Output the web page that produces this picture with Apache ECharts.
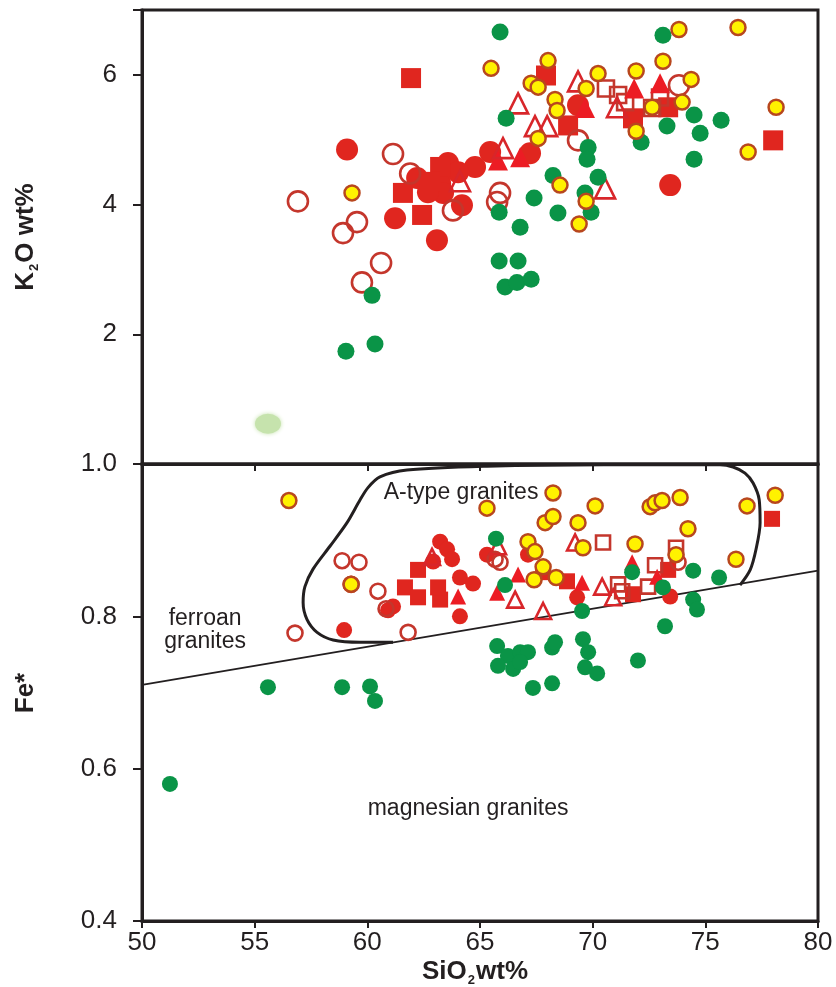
<!DOCTYPE html>
<html>
<head>
<meta charset="utf-8">
<script src="https://cdn.jsdelivr.net/npm/echarts@6/dist/echarts.min.js"></script>
<style>
  html, body { margin: 0; padding: 0; background: #ffffff; }
  #chart { width: 836px; height: 987px; }
</style>
</head>
<body>
<div id="chart"></div>
<script>
// SiO2 range shared by both panels
const siO2Range = [50, 80, 5];
const k2oRange = [0, 7, 2];
const feRange = [0.4, 1.0, 0.2];

// ---- K2O vs SiO2 (upper panel) ----
const k2oGreen = [
  [65.89, 6.66], [73.12, 6.61], [66.16, 5.33], [69.80, 4.88], [69.75, 4.70], [68.24, 4.45],
  [70.24, 4.42], [67.40, 4.10], [69.66, 4.18], [69.93, 3.88], [68.46, 3.87], [66.78, 3.65],
  [65.85, 3.88], [65.85, 3.13], [66.69, 3.13], [66.11, 2.73], [66.64, 2.80], [67.27, 2.85],
  [60.21, 2.60], [59.05, 1.74], [60.34, 1.85], [72.15, 4.96], [73.30, 5.21], [74.50, 5.38],
  [74.77, 5.10], [75.70, 5.30], [74.50, 4.70]
];
const k2oRedCircle = [
  [59.10, 4.85], [65.45, 4.81], [64.78, 4.58], [67.22, 4.79], [63.58, 4.64], [62.21, 4.41],
  [63.23, 4.33], [63.36, 4.18], [64.20, 3.99], [61.23, 3.79], [63.09, 3.45], [69.35, 5.53],
  [73.44, 4.30], [64.03, 4.50], [62.69, 4.19]
];
const k2oRedSquare = [
  [61.94, 5.95], [63.23, 4.58], [61.58, 4.18], [62.43, 3.84], [62.78, 4.35], [67.93, 5.99],
  [68.91, 5.22], [71.79, 5.33], [73.35, 5.50], [78.01, 4.99]
];
const k2oOpenCircle = [
  [56.92, 4.05], [61.14, 4.78], [61.90, 4.48], [59.54, 3.73], [58.92, 3.56], [60.61, 3.10],
  [59.76, 2.80], [63.80, 3.91], [65.89, 4.18], [65.76, 4.04], [69.35, 4.99], [73.83, 5.84]
];
const k2oOpenTriangle = [
  [64.11, 4.36], [66.02, 4.87], [66.69, 5.56], [67.44, 5.21], [67.98, 5.21], [69.35, 5.90],
  [71.08, 5.50], [70.55, 4.25]
];
const k2oRedTriangle = [
  [65.80, 4.68], [66.78, 4.73], [69.66, 5.49], [71.84, 5.79], [72.99, 5.87]
];
const k2oOpenSquare = [
  [70.59, 5.79], [71.13, 5.69], [71.44, 5.58], [72.64, 5.49], [72.99, 5.65]
];
const k2oYellow = [
  [59.32, 4.18], [65.49, 6.10], [68.02, 6.22], [67.27, 5.87], [67.58, 5.81], [68.33, 5.62],
  [68.42, 5.45], [67.58, 5.02], [69.71, 5.79], [70.24, 6.02], [71.93, 6.06], [73.12, 6.21],
  [73.83, 6.70], [76.45, 6.73], [74.37, 5.93], [72.64, 5.50], [73.97, 5.58], [71.93, 5.13],
  [78.14, 5.50], [76.90, 4.81], [68.55, 4.30], [69.71, 4.05], [69.40, 3.70]
];
const k2oPaleGreen = [[55.59, 0.62]];

// ---- Fe* vs SiO2 (lower panel) ----
const feGreen = [
  [51.24, 0.580], [55.59, 0.707], [58.88, 0.707], [60.12, 0.708], [60.34, 0.689], [65.71, 0.902],
  [66.11, 0.841], [65.76, 0.761], [66.24, 0.748], [66.78, 0.753], [67.13, 0.753], [65.80, 0.735],
  [66.47, 0.731], [66.78, 0.740], [68.20, 0.759], [68.33, 0.766], [67.35, 0.706], [68.20, 0.712],
  [69.57, 0.770], [69.80, 0.753], [69.66, 0.733], [70.20, 0.725], [69.53, 0.807], [72.01, 0.742],
  [71.75, 0.858], [73.12, 0.838], [73.21, 0.787], [74.46, 0.860], [75.61, 0.851], [74.46, 0.822],
  [74.63, 0.809]
];
const feRedCircle = [
  [58.97, 0.782], [61.14, 0.813], [60.92, 0.808], [63.23, 0.898], [63.54, 0.888], [63.76, 0.875],
  [64.11, 0.851], [64.69, 0.843], [64.11, 0.800], [65.31, 0.881], [67.13, 0.881], [69.31, 0.825],
  [73.44, 0.826], [62.92, 0.872]
];
const feRedSquare = [
  [61.67, 0.838], [62.25, 0.825], [63.23, 0.822], [62.25, 0.861], [63.14, 0.838], [67.80, 0.858],
  [68.86, 0.846], [71.79, 0.829], [73.35, 0.861], [77.96, 0.928]
];
const feOpenCircle = [
  [58.88, 0.873], [59.63, 0.871], [59.28, 0.842], [60.47, 0.833], [56.79, 0.778], [61.81, 0.779],
  [65.67, 0.875], [65.89, 0.871], [73.79, 0.871], [60.83, 0.810]
];
const feRedTriangle = [
  [64.03, 0.826], [65.76, 0.831], [66.69, 0.855], [69.53, 0.844], [71.75, 0.871], [72.86, 0.852]
];
const feOpenTriangle = [
  [62.87, 0.878], [65.80, 0.892], [66.56, 0.822], [67.80, 0.807], [69.22, 0.897], [70.42, 0.839],
  [70.91, 0.825]
];
const feOpenSquare = [
  [70.46, 0.897], [71.13, 0.842], [71.31, 0.833], [72.46, 0.839], [72.77, 0.867], [73.70, 0.890]
];
const feYellow = [
  [56.52, 0.952], [59.28, 0.842], [65.31, 0.942], [67.89, 0.923], [68.24, 0.931], [68.24, 0.962],
  [67.13, 0.898], [67.44, 0.885], [67.80, 0.865], [67.40, 0.848], [68.38, 0.851], [69.57, 0.890],
  [69.35, 0.923], [70.11, 0.945], [71.88, 0.895], [72.55, 0.944], [72.77, 0.949], [73.08, 0.952],
  [73.88, 0.956], [74.23, 0.915], [73.70, 0.881], [76.36, 0.875], [76.85, 0.945], [78.10, 0.959]
];

// ferroan / magnesian divide
const ferroanLine = [[50, 0.71], [80, 0.86]];
// curved part of the A-type granite field; its lower side is the divide itself
const aTypeField = [
  [76.54, 0.841], [76.99, 0.861], [77.25, 0.888], [77.43, 0.923], [77.39, 0.953], [77.12, 0.975],
  [76.76, 0.988], [76.23, 0.996], [75.65, 0.999], [70.50, 0.999], [65.31, 0.997], [61.76, 0.992],
  [60.56, 0.983], [60.03, 0.969], [59.68, 0.953], [59.10, 0.923], [58.34, 0.892], [57.59, 0.862],
  [57.23, 0.839], [57.15, 0.818], [57.32, 0.796], [57.77, 0.779], [58.48, 0.769], [59.68, 0.766],
  [61.14, 0.766]
];

// field annotations (data coordinates in the lower panel)
const fieldLabels = [
  { text: 'A-type granites', at: [64.16, 0.963] },
  { text: 'ferroan\ngranites', at: [52.8, 0.782] },
  { text: 'magnesian granites', at: [64.47, 0.548] }
];

const FONT = "'Liberation Sans', Arial, Helvetica, sans-serif";
const INK = '#231f20';
const RED = '#e0261f';
const RED_EDGE = '#c4362c';
const GREEN = '#0a9447';

const chart = echarts.init(document.getElementById('chart'), null, { renderer: 'canvas' });

function xAxisFor(grid, showLabels) {
  return {
    type: 'value', gridIndex: grid,
    min: siO2Range[0], max: siO2Range[1], interval: siO2Range[2],
    axisLine: { show: true, onZero: false, lineStyle: { color: INK, width: 3 } },
    axisTick: { show: true, inside: false, length: 7, lineStyle: { color: INK, width: 2 } },
    axisLabel: { show: showLabels, fontSize: 26, color: INK, fontFamily: FONT, margin: 9 },
    splitLine: { show: false }
  };
}

function scatter(name, data, grid, symbol, size, style) {
  return {
    name, type: 'scatter', xAxisIndex: grid, yAxisIndex: grid, data,
    symbol, symbolSize: size, itemStyle: Object.assign({ opacity: 1 }, style), silent: true, z: 2
  };
}

const solid = c => ({ color: c, borderWidth: 0 });
const open = c => ({ color: 'rgba(255,255,255,0)', borderColor: c, borderWidth: 2.6 });
const yellowStyle = { color: '#fff200', borderColor: '#b8471e', borderWidth: 2.5 };

const option = {
  animation: false,
  backgroundColor: '#ffffff',
  grid: [
    { left: 142, top: 10, width: 676, height: 454, show: true, borderColor: INK, borderWidth: 3 },
    { left: 142, top: 464, width: 676, height: 457, show: true, borderColor: INK, borderWidth: 3 }
  ],
  xAxis: [xAxisFor(0, false), xAxisFor(1, true)],
  yAxis: [
    {
      type: 'value', gridIndex: 0,
      min: k2oRange[0], max: k2oRange[1], interval: k2oRange[2],
      axisLine: { show: true, onZero: false, lineStyle: { color: INK, width: 3 } },
      axisTick: { show: true, length: 9, lineStyle: { color: INK, width: 2 } },
      axisLabel: {
        fontSize: 26, color: INK, fontFamily: FONT, margin: 25,
        formatter: v => (v === 0 || v === 7) ? '' : String(v)
      },
      splitLine: { show: false }
    },
    {
      type: 'value', gridIndex: 1,
      min: feRange[0], max: feRange[1], interval: feRange[2],
      axisLine: { show: true, onZero: false, lineStyle: { color: INK, width: 3 } },
      axisTick: { show: true, length: 9, lineStyle: { color: INK, width: 2 } },
      axisLabel: { fontSize: 26, color: INK, fontFamily: FONT, margin: 25, formatter: v => v.toFixed(1) },
      splitLine: { show: false }
    }
  ],
  series: [
    // field boundaries
    {
      type: 'line', xAxisIndex: 1, yAxisIndex: 1, data: ferroanLine, symbol: 'none', silent: true,
      lineStyle: { color: INK, width: 2 }, z: 1
    },
    {
      type: 'line', xAxisIndex: 1, yAxisIndex: 1, data: aTypeField, symbol: 'none', silent: true,
      smooth: 0.3, lineStyle: { color: INK, width: 3 }, z: 1
    },

    // upper panel
    scatter('pale', k2oPaleGreen, 0, 'circle', [26, 20],
      { color: '#c6e3ad', shadowBlur: 4, shadowColor: '#c6e3ad' }),
    scatter('redCircle', k2oRedCircle, 0, 'circle', 22, solid(RED)),
    scatter('redSquare', k2oRedSquare, 0, 'rect', 20, solid(RED)),
    scatter('openCircle', k2oOpenCircle, 0, 'circle', 20, open(RED_EDGE)),
    scatter('openSquare', k2oOpenSquare, 0, 'rect', 16, open(RED_EDGE)),
    scatter('redTriangle', k2oRedTriangle, 0, 'triangle', 20, solid('#ec1c24')),
    scatter('openTriangle', k2oOpenTriangle, 0, 'triangle', 20, open('#d8262a')),
    scatter('green', k2oGreen, 0, 'circle', 17, solid(GREEN)),
    scatter('yellow', k2oYellow, 0, 'circle', 15, yellowStyle),

    // lower panel
    scatter('redCircle', feRedCircle, 1, 'circle', 16, solid(RED)),
    scatter('redSquare', feRedSquare, 1, 'rect', 16, solid(RED)),
    scatter('openCircle', feOpenCircle, 1, 'circle', 15, open(RED_EDGE)),
    scatter('openSquare', feOpenSquare, 1, 'rect', 14, open(RED_EDGE)),
    scatter('redTriangle', feRedTriangle, 1, 'triangle', 16, solid('#ec1c24')),
    scatter('openTriangle', feOpenTriangle, 1, 'triangle', 16, open('#d8262a')),
    scatter('green', feGreen, 1, 'circle', 16, solid(GREEN)),
    scatter('yellow', feYellow, 1, 'circle', 15, yellowStyle)
  ],
  graphic: [
    {
      type: 'text', id: 'k2oTitle', x: 24, y: 237, rotation: Math.PI / 2,
      style: {
        text: '{b|K}{s|2}{b|O wt%}', align: 'center', verticalAlign: 'middle',
        rich: {
          b: { fontSize: 26, fontWeight: 'bold', fontFamily: FONT, fill: INK, lineHeight: 30, verticalAlign: 'bottom' },
          s: { fontSize: 13, fontWeight: 'bold', fontFamily: FONT, fill: INK, lineHeight: 30, verticalAlign: 'bottom', padding: [0, 1, -2, 1] }
        }
      }
    },
    {
      type: 'text', id: 'feTitle', x: 26, y: 693, rotation: Math.PI / 2,
      style: { text: 'Fe*', align: 'center', verticalAlign: 'middle', font: 'bold 26px ' + FONT, fill: INK }
    },
    {
      type: 'text', id: 'siTitle', x: 475, y: 970,
      style: {
        text: '{b|SiO}{s|2}{b|wt%}', align: 'center', verticalAlign: 'middle',
        rich: {
          b: { fontSize: 26, fontWeight: 'bold', fontFamily: FONT, fill: INK, lineHeight: 30, verticalAlign: 'bottom' },
          s: { fontSize: 13, fontWeight: 'bold', fontFamily: FONT, fill: INK, lineHeight: 30, verticalAlign: 'bottom', padding: [0, 1, -2, 1] }
        }
      }
    }
  ]
};

chart.setOption(option);

// place the field names at their data positions in the lower panel
const labelGraphics = fieldLabels.map((f, i) => {
  const p = chart.convertToPixel({ gridIndex: 1 }, f.at);
  return {
    type: 'text', id: 'field' + i, x: p[0], y: p[1], z: 10,
    style: {
      text: f.text, align: 'center', verticalAlign: 'middle',
      font: '23px ' + FONT, fill: INK, lineHeight: 23
    }
  };
});
chart.setOption({ graphic: labelGraphics });
</script>
</body>
</html>
